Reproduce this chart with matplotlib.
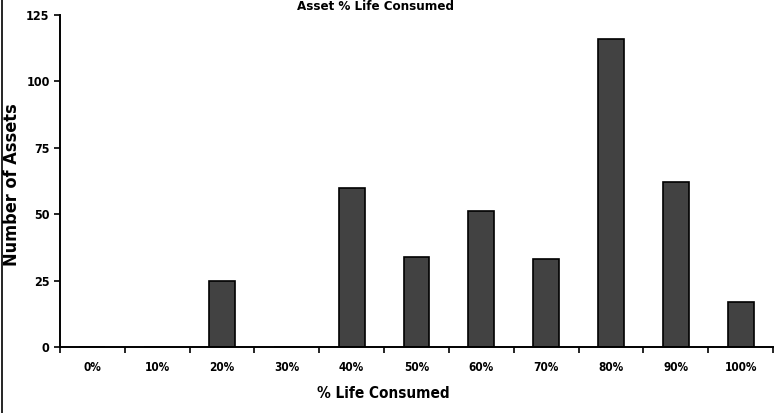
import matplotlib
matplotlib.use("Agg")
import matplotlib.pyplot as plt
from matplotlib.lines import Line2D

plt.rcParams['font.family'] = ['DejaVu Sans']
plt.rcParams['font.stretch'] = 'condensed'
plt.rcParams['font.weight'] = 'bold'

# data
categories = ['0%', '10%', '20%', '30%', '40%', '50%', '60%', '70%', '80%', '90%', '100%']
assets = [0, 0, 25, 0, 60, 34, 51, 33, 116, 62, 17]

fig = plt.figure(figsize=(7.82, 4.13), dpi=100)
ax = fig.add_axes([0.0767, 0.16, 0.9118, 0.8037])

x = list(range(len(categories)))
ax.bar(x, assets, width=0.4, color='#424242', edgecolor='black', linewidth=1.2)

ax.set_xlim(-0.5, len(categories) - 0.5)
ax.set_ylim(0, 125)
ax.set_yticks([0, 25, 50, 75, 100, 125])
ax.set_xticks(x)
ax.set_xticklabels(categories, fontsize=8.5, fontweight='bold')
ax.set_xticks([i - 0.5 for i in range(len(categories) + 1)], minor=True)
ax.tick_params(axis='x', which='major', length=0, pad=10)
ax.tick_params(axis='x', which='minor', length=4, width=1.2, direction='out')
ax.tick_params(axis='y', length=4, width=1.2, labelsize=9)
for lab in ax.get_yticklabels():
    lab.set_fontweight('bold')

for s in ['top', 'right']:
    ax.spines[s].set_visible(False)
ax.spines['left'].set_linewidth(1.4)
ax.spines['bottom'].set_linewidth(1.4)

ax.set_xlabel('% Life Consumed', fontsize=11, fontweight='bold')
ax.xaxis.set_label_coords(0.453, -0.118)
ax.set_ylabel('Number of Assets', fontsize=13, fontweight='bold')
ax.yaxis.set_label_coords(-0.054, 0.49)

# title sits at the very top edge of the scan
fig.text(0.48, 0.999, 'Asset % Life Consumed', ha='center', va='top',
         fontsize=9.5, fontweight='bold')

# scan border on the left
fig.add_artist(Line2D([0.003, 0.003], [0, 1], color='black', linewidth=1.2,
                      transform=fig.transFigure))

fig.savefig('out.png', dpi=100)
